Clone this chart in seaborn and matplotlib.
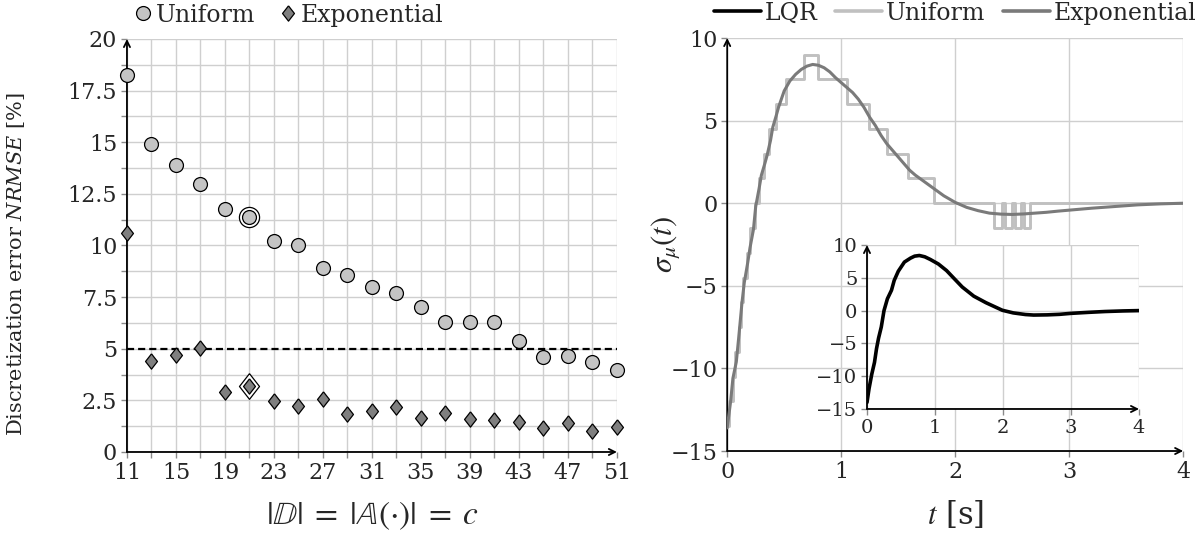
import matplotlib
matplotlib.use("Agg")
import matplotlib.pyplot as plt
from matplotlib.lines import Line2D
from matplotlib.ticker import FixedLocator
import seaborn as sns

# ---------------- Left panel data ----------------
c_values = [11, 13, 15, 17, 19, 21, 23, 25, 27, 29, 31, 33, 35, 37, 39, 41, 43, 45, 47, 49, 51]
nrmse_uniform = [18.25, 14.9, 13.88, 13.0, 11.77, 11.38, 10.2, 10.02, 8.92, 8.59, 7.97, 7.68,
                 7.04, 6.3, 6.3, 6.3, 5.36, 4.62, 4.65, 4.34, 3.99]
nrmse_exponential = [10.59, 4.42, 4.71, 5.04, 2.92, 3.18, 2.48, 2.24, 2.57, 1.84, 1.98, 2.2,
                     1.65, 1.89, 1.6, 1.56, 1.45, 1.16, 1.4, 1.03, 1.2]
highlight_c = 21
threshold = 5
left_xticks = [11, 15, 19, 23, 27, 31, 35, 39, 43, 47, 51]
left_yticks = [0, 2.5, 5, 7.5, 10, 12.5, 15, 17.5, 20]
left_yminor = [1.25, 3.75, 6.25, 8.75, 11.25, 13.75, 16.25, 18.75]
left_yticklabels = ["0", "2.5", "5", "7.5", "10", "12.5", "15", "17.5", "20"]

# ---------------- Right panel data ----------------
uni_t = [0.0, 0.02, 0.05, 0.07, 0.10, 0.12, 0.14, 0.17, 0.20, 0.24, 0.28, 0.327, 0.37, 0.43,
         0.52, 0.675, 0.80, 1.05, 1.24, 1.40, 1.59, 1.81, 2.336, 2.41, 2.44, 2.497, 2.526,
         2.576, 2.605, 2.66, 4.0]
uni_v = [-13.5, -12, -10.5, -9, -7.5, -6, -4.5, -3, -1.5, 0, 1.5, 3, 4.5, 6,
         7.5, 9, 7.5, 6, 4.5, 3, 1.5, 0, -1.5, 0, -1.5, 0, -1.5,
         0, -1.5, 0, 0]

exp_t = [0.00, 0.03, 0.05, 0.08, 0.10, 0.13, 0.15, 0.18, 0.20, 0.23, 0.25, 0.28, 0.30, 0.33,
         0.35, 0.38, 0.40, 0.43, 0.45, 0.50, 0.55, 0.60, 0.65,
         0.70, 0.75, 0.80, 0.85, 0.90, 0.95, 1.00, 1.05, 1.10, 1.15, 1.20, 1.25, 1.30, 1.35,
         1.40, 1.45, 1.50, 1.55, 1.60, 1.65, 1.70, 1.75, 1.80, 1.85, 1.90, 1.95, 2.00, 2.10,
         2.20, 2.30, 2.40, 2.50, 2.60, 2.70, 2.80, 2.90, 3.00, 3.20, 3.40, 3.60, 3.80, 4.00]
exp_v = [-13.6, -12.0, -10.6, -9.6, -8.2, -6.0, -4.8, -3.6, -2.7, -1.6, -0.2, 0.9, 1.7, 2.4,
         2.9, 3.8, 4.6, 5.3, 5.8, 6.8, 7.4, 7.8, 8.1,
         8.3, 8.4, 8.35, 8.2, 7.95, 7.6, 7.3, 7.0, 6.7, 6.3, 5.8, 5.2, 4.7, 4.1,
         3.6, 3.2, 2.8, 2.4, 2.0, 1.7, 1.45, 1.2, 0.95, 0.7, 0.45, 0.25, 0.05, -0.25,
         -0.45, -0.6, -0.66, -0.68, -0.65, -0.6, -0.55, -0.48, -0.42, -0.3, -0.2, -0.1, -0.04, 0.0]

lqr_t = [0.0, 0.03, 0.07, 0.11, 0.14, 0.17, 0.21, 0.25, 0.30, 0.36, 0.40, 0.46, 0.55, 0.64,
         0.70, 0.77, 0.85, 0.93, 1.05, 1.17, 1.28, 1.40, 1.57, 1.75, 1.99, 2.15, 2.33, 2.45,
         2.65, 2.83, 3.00, 3.25, 3.50, 3.77, 4.00]
lqr_v = [-14.0, -11.9, -9.7, -7.9, -5.8, -4.2, -2.5, 0.0, 1.8, 3.1, 4.6, 6.0, 7.4, 8.0,
         8.3, 8.4, 8.2, 7.8, 7.1, 6.1, 4.9, 3.6, 2.2, 1.2, 0.05, -0.35, -0.6, -0.68,
         -0.65, -0.57, -0.42, -0.27, -0.14, -0.05, 0.0]

right_xticks = [0, 1, 2, 3, 4]
right_yticks = [-15, -10, -5, 0, 5, 10]

# ---------------- Style ----------------
sns.set_theme(style="white")
plt.rcParams["font.family"] = ["DejaVu Serif"]
plt.rcParams["mathtext.fontset"] = "stix"
plt.rcParams["axes.unicode_minus"] = True

C_UNI_M = "#c4c4c4"
C_EXP_M = "#7f7f7f"
C_UNI_L = "#c0c0c0"
C_EXP_L = "#7a7a7a"
GRID = "#cfcfcf"
FS = 16
FS_LEG = 17

fig = plt.figure(figsize=(12, 5.43), dpi=100)
axL = fig.add_axes([0.1058, 0.1676, 0.4083, 0.7606])
axR = fig.add_axes([0.606, 0.1694, 0.380, 0.7606])
axI = fig.add_axes([0.7225, 0.2468, 0.2267, 0.302])


def style_axes(ax, fs):
    for s in ["top", "right", "left", "bottom"]:
        ax.spines[s].set_visible(False)
    ax.grid(which="both", color=GRID, lw=1.0)
    ax.set_axisbelow(True)
    ax.tick_params(which="both", direction="out", length=4, width=1, color="#8a8a8a",
                   labelsize=fs, pad=3, left=True, bottom=True)
    ax.annotate("", xy=(1.0, 0), xytext=(0, 0), xycoords="axes fraction",
                arrowprops=dict(arrowstyle="->", lw=1.3, color="black", mutation_scale=11,
                                shrinkA=0, shrinkB=0), annotation_clip=False)
    ax.annotate("", xy=(0, 1.0), xytext=(0, 0), xycoords="axes fraction",
                arrowprops=dict(arrowstyle="->", lw=1.3, color="black", mutation_scale=11,
                                shrinkA=0, shrinkB=0), annotation_clip=False)


# ---------------- Left panel ----------------
style_axes(axL, FS)
axL.set_xlim(11, 51)
axL.set_ylim(0, 20)
axL.xaxis.set_major_locator(FixedLocator(left_xticks))
axL.xaxis.set_minor_locator(FixedLocator([c for c in c_values if c not in left_xticks]))
axL.yaxis.set_major_locator(FixedLocator(left_yticks))
axL.set_yticklabels(left_yticklabels)
axL.yaxis.set_minor_locator(FixedLocator(left_yminor))

axL.axhline(threshold, color="black", lw=1.6, ls=(0, (3.2, 1.8)), zorder=2)

hi = c_values.index(highlight_c)
diamond = [(0, 1), (0.78, 0), (0, -1), (-0.78, 0), (0, 1)]

axL.scatter([c_values[hi]], [nrmse_uniform[hi]], s=14.5 ** 2, marker="o",
            facecolor="white", edgecolor="black", linewidth=0.9, zorder=3, clip_on=False)
axL.scatter([c_values[hi]], [nrmse_exponential[hi]], s=18.5 ** 2, marker=diamond,
            facecolor="white", edgecolor="black", linewidth=0.9, zorder=3, clip_on=False)

sns.scatterplot(x=c_values, y=nrmse_uniform, ax=axL, marker="o", s=10.0 ** 2,
                color=C_UNI_M, edgecolor="black", linewidth=0.9, zorder=4, clip_on=False)
sns.scatterplot(x=c_values, y=nrmse_exponential, ax=axL, marker=diamond, s=11.0 ** 2,
                color=C_EXP_M, edgecolor="black", linewidth=0.9, zorder=4, clip_on=False)

axL.set_xlabel(r"$|\mathbb{D}|\;=\;|\mathbb{A}(\cdot)|\;=\;c$", fontsize=24)
axL.xaxis.set_label_coords(0.5, -0.115)
axL.set_ylabel(r"Discretization error $\mathit{NRMSE}$ [%]", fontsize=15,
               math_fontfamily="dejavuserif")
axL.yaxis.set_label_coords(-0.205, 0.455)

legL = [Line2D([], [], ls="none", marker="o", ms=10.0, mfc=C_UNI_M, mec="black", mew=0.9),
        Line2D([], [], ls="none", marker=diamond, ms=11.0, mfc=C_EXP_M, mec="black", mew=0.9)]
fig.legend(legL, ["Uniform", "Exponential"], loc="center left", bbox_to_anchor=(0.111, 0.972),
           ncol=2, frameon=False, fontsize=FS_LEG, handlelength=0.8, handletextpad=0.15,
           columnspacing=1.0, borderpad=0, borderaxespad=0)

# ---------------- Right panel ----------------
style_axes(axR, FS)
axR.set_xlim(0, 4)
axR.set_ylim(-15, 10)
axR.xaxis.set_major_locator(FixedLocator(right_xticks))
axR.yaxis.set_major_locator(FixedLocator(right_yticks))

sns.lineplot(x=uni_t, y=uni_v, ax=axR, color=C_UNI_L, lw=2.1, drawstyle="steps-post",
             estimator=None, sort=False, zorder=3)
sns.lineplot(x=exp_t, y=exp_v, ax=axR, color=C_EXP_L, lw=2.2,
             estimator=None, sort=False, zorder=4)
axR.set_xlabel(r"$t$ [s]", fontsize=22)
axR.xaxis.set_label_coords(0.5, -0.115)
axR.set_ylabel(r"$\sigma_{\mu}(t)$", fontsize=22)
axR.yaxis.set_label_coords(-0.1, 0.5)

legR = [Line2D([], [], color="black", lw=2.6),
        Line2D([], [], color=C_UNI_L, lw=2.6),
        Line2D([], [], color=C_EXP_L, lw=2.6)]
fig.legend(legR, ["LQR", "Uniform", "Exponential"], loc="center right",
           bbox_to_anchor=(0.997, 0.976), ncol=3, frameon=False, fontsize=FS_LEG,
           handlelength=2.0, handletextpad=0.15, columnspacing=0.75, borderpad=0,
           borderaxespad=0)

# ---------------- Inset ----------------
axI.set_facecolor("white")
axI.patch.set_alpha(1.0)
style_axes(axI, 14)
axI.set_xlim(0, 4)
axI.set_ylim(-15, 10)
axI.xaxis.set_major_locator(FixedLocator(right_xticks))
axI.yaxis.set_major_locator(FixedLocator(right_yticks))
sns.lineplot(x=lqr_t, y=lqr_v, ax=axI, color="black", lw=2.6, estimator=None,
             sort=False, zorder=3)
axI.set_xlabel("")
axI.set_ylabel("")

fig.savefig("out.png", dpi=100)
